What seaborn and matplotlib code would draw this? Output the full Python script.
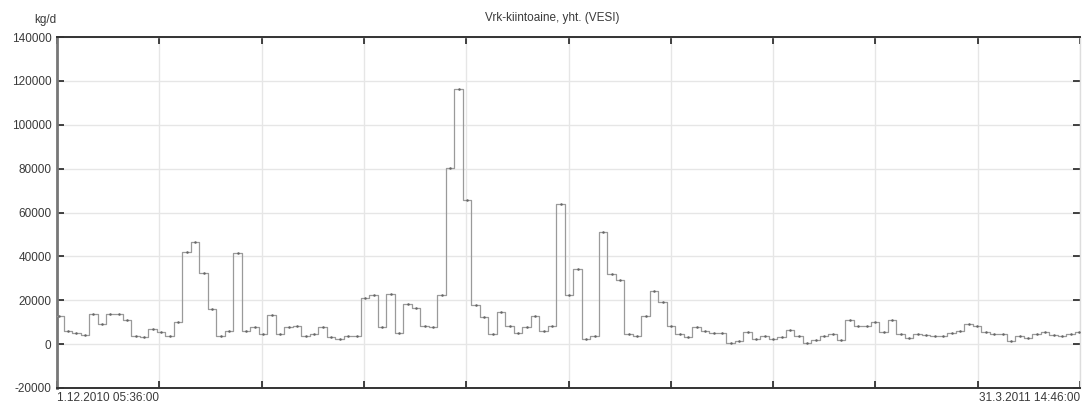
import numpy as np
import pandas as pd
import matplotlib
matplotlib.use("Agg")
import matplotlib.pyplot as plt
import seaborn as sns

# Daily solids load, kg/d (one value per calendar day, 1.12.2010 - 31.3.2011)
days = pd.date_range("2010-12-01", "2011-03-31", freq="D")
load = [
    12700, 5800, 5000, 4300, 13900, 9300, 13900, 13900, 11000, 3800,
    3200, 7000, 5700, 3800, 10300, 42000, 46500, 32200, 15900, 3800,
    5800, 41500, 5800, 7800, 4600, 13300, 4600, 7600, 8400, 3800,
    4500, 7600, 3200, 2400, 3800, 3800, 21000, 22200, 7600, 23000,
    4900, 18400, 16400, 8400, 7600, 22200, 80500, 116500, 65600, 17800,
    12200, 4400, 14500, 8400, 5100, 7800, 12700, 5800, 8400, 63800,
    22200, 34300, 2500, 3800, 51100, 31900, 29400, 4400, 3800, 12700,
    24200, 19100, 8400, 4600, 3200, 7600, 5800, 5100, 5100, 600,
    1200, 5500, 2500, 3800, 2500, 3200, 6300, 3800, 700, 1700,
    3500, 4600, 1700, 10900, 8100, 8100, 10000, 5500, 10900, 4600,
    2800, 4600, 4300, 3800, 3800, 5100, 5800, 9200, 8100, 5400,
    4600, 4600, 1200, 3500, 3000, 4600, 5400, 4000, 3800, 4600,
    5400,
]
y_ticks = [-20000, 0, 20000, 40000, 60000, 80000, 100000, 120000, 140000]
t_start = pd.Timestamp("2010-12-01 05:36:00")
t_end = pd.Timestamp("2011-03-31 14:46:00")
start_label = "1.12.2010 05:36:00"
end_label = "31.3.2011 14:46:00"
title = "Vrk-kiintoaine, yht. (VESI)"
unit = "kg/d"

# step edges: each day's value holds from midnight to the next midnight
edges = list(days) + [days[-1] + pd.Timedelta(days=1)]
df = pd.DataFrame({"time": edges, "load": load + [load[-1]]})

sns.set_style("white")
plt.rcParams["font.family"] = ["Liberation Sans", "DejaVu Sans"]

fig = plt.figure(figsize=(10.82, 4.04), dpi=100)
ax = fig.add_axes([57 / 1082, 1 - 388 / 404, (1080 - 57) / 1082, (388 - 37) / 404])

sns.lineplot(data=df, x="time", y="load", ax=ax, drawstyle="steps-post",
             color="#9a9a9a", linewidth=0.9, estimator=None, zorder=3)
ax.plot(df["time"][:-1] + pd.Timedelta(hours=12), load, linestyle="none",
        marker="o", markersize=0.8, color="#666666", zorder=4)

ax.set_xlim(t_start, t_end)
ax.set_ylim(-20000, 140000)

span = t_end - t_start
xt = [t_start + span * k / 10 for k in range(11)]
ax.set_xticks(xt)
labels = [""] * 11
labels[0] = start_label
labels[-1] = end_label
ax.set_xticklabels(labels)
tl = ax.get_xticklabels()
tl[0].set_ha("left")
tl[-1].set_ha("right")

ax.set_yticks(y_ticks)
ax.set_yticklabels([str(v) for v in y_ticks])

ax.grid(True, color="#e6e6e6", linewidth=1.0, zorder=0)
ax.set_axisbelow(True)
ax.set_xlabel("")
ax.set_ylabel("")

ax.tick_params(axis="both", direction="in", length=5, width=1.2, color="#222222",
               labelsize=8.5, labelcolor="#3a3a3a", top=True, right=True,
               bottom=True, left=True)
ax.tick_params(axis="x", pad=3)
ax.tick_params(axis="y", pad=4)

for side in ["top", "bottom"]:
    ax.spines[side].set_color("#333333")
    ax.spines[side].set_linewidth(1.4)
ax.spines["left"].set_color("#777777")
ax.spines["left"].set_linewidth(2.0)
ax.spines["right"].set_color("#dddddd")
ax.spines["right"].set_linewidth(1.0)

fig.text(552 / 1082, 1 - 18 / 404, title, ha="center", va="center",
         fontsize=8.5, color="#3a3a3a")
fig.text(45 / 1082, 1 - 20 / 404, unit, ha="center", va="center",
         fontsize=8.5, color="#3a3a3a")

fig.savefig("out.png", dpi=100)
